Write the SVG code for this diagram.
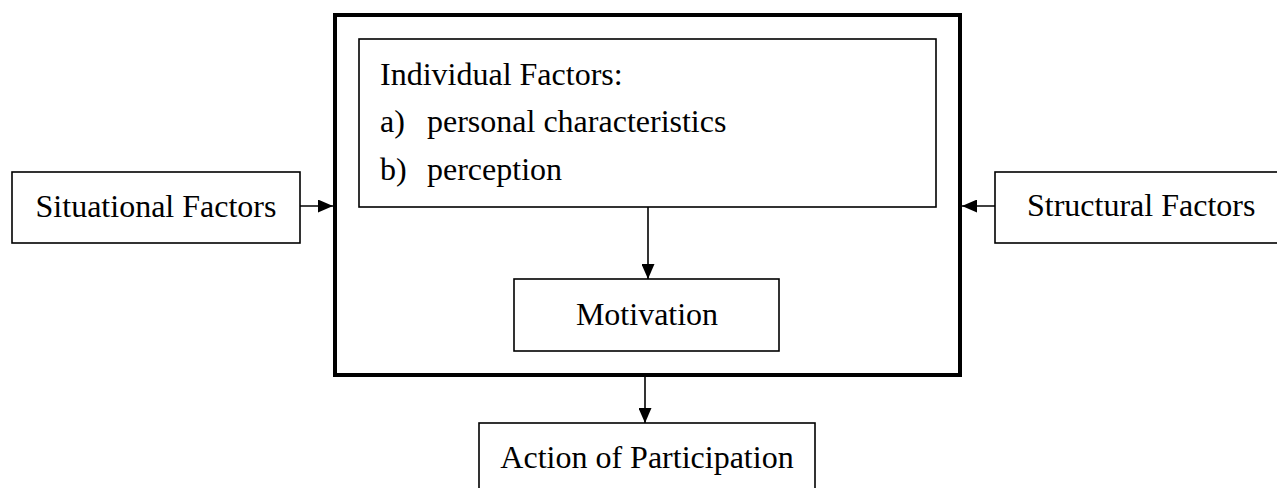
<svg xmlns="http://www.w3.org/2000/svg" width="1277" height="488" viewBox="0 0 1277 488">
<style>
.box{fill:#fff;stroke:#000;stroke-width:1.6}
.outer{fill:none;stroke:#000;stroke-width:4}
.t{font-family:"Liberation Serif","Times New Roman",serif;font-size:32px;fill:#000}
.c{stroke:#000;stroke-width:1.6;fill:none}
</style>
<defs>
<marker id="ah" markerWidth="15" markerHeight="13" refX="15" refY="6.5" orient="auto" markerUnits="userSpaceOnUse" viewBox="0 0 15 13">
<path d="M0,0 L15,6.5 L0,13 Z" fill="#000"/>
</marker>
</defs>
<g id="central">
<rect class="outer" x="335" y="15" width="625" height="360"/>
</g>
<g id="individual">
<rect class="box" x="359" y="39" width="577" height="168"/>
<text class="t" x="380" y="85">Individual Factors:</text>
<text class="t" x="380" y="132">a)</text>
<text class="t" x="427" y="132">personal characteristics</text>
<text class="t" x="380" y="180">b)</text>
<text class="t" x="427" y="180">perception</text>
</g>
<g id="motivation">
<rect class="box" x="514" y="279" width="265" height="72"/>
<text class="t" x="647" y="325" text-anchor="middle">Motivation</text>
</g>
<g id="situational">
<rect class="box" x="12" y="172" width="288" height="71"/>
<text class="t" x="156" y="217" text-anchor="middle">Situational Factors</text>
</g>
<g id="structural">
<rect class="box" x="995" y="172" width="290" height="71"/>
<text class="t" x="1027" y="216">Structural Factors</text>
</g>
<g id="action">
<rect class="box" x="479" y="423" width="336" height="70"/>
<text class="t" x="647" y="468" text-anchor="middle">Action of Participation</text>
</g>
<g id="connectors">
<line class="c" x1="300" y1="206" x2="333" y2="206" marker-end="url(#ah)"/>
<line class="c" x1="995" y1="206" x2="962" y2="206" marker-end="url(#ah)"/>
<line class="c" x1="648" y1="207" x2="648" y2="279" marker-end="url(#ah)"/>
<line class="c" x1="645" y1="377" x2="645" y2="423" marker-end="url(#ah)"/>
</g>
</svg>
